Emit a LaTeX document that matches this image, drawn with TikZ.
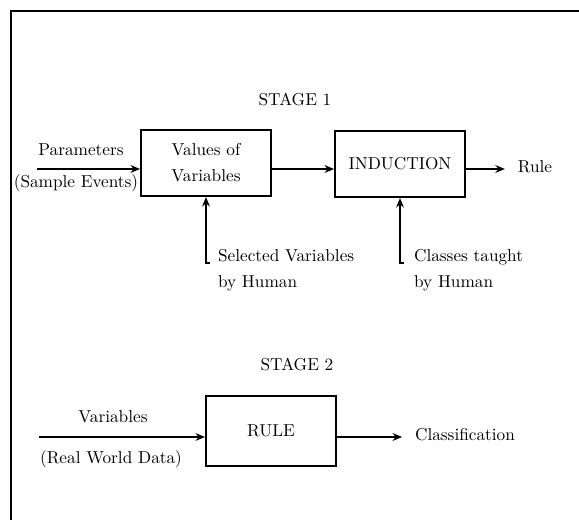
\documentclass[tikz,border=0pt]{standalone}
\usepackage{tikz}
\usetikzlibrary{shapes, arrows.meta, positioning}

\begin{document}
\begin{tikzpicture}
  [
    x=0.58pt, y=-0.58pt,
    Box/.style={rectangle, draw=black, line width=1pt, minimum width=75.5pt, minimum height=38.5pt},
    Txt/.style={align=left, inner sep=1pt},
    Flow/.style={-{Stealth[length=5.5pt, width=4.5pt]}, line width=1pt}
  ]
  \useasboundingbox (0,0) rectangle (579,520);
  % Frame
  \draw[line width=1pt] (579,11) -- (11,11) -- (11,520);
  % Nodes (stage 1)
  \node (stage1) at (295,100) {STAGE 1};
  \node[Box, align=center] (vals) at (206,163) {Values of\\[3pt] Variables};
  \node[Box] (induct) at (400,164) {INDUCTION};
  \node (params) at (81,150) {Parameters};
  \node (sample) at (76,183) {(Sample Events)};
  \node (rulelbl) at (535,167) {Rule};
  \node[Txt, anchor=west] (selvar) at (216,270) {Selected Variables\\[3pt] by Human};
  \node[Txt, anchor=west] (classes) at (412,270) {Classes taught\\[3pt] by Human};
  \coordinate (pin) at (37,169);
  \coordinate (selfoot) at (210,263);
  \coordinate (clsfoot) at (404,263);
  % Nodes (stage 2)
  \node (stage2) at (297,365) {STAGE 2};
  \node[Box, minimum height=41pt] (rulebox) at (271,431) {RULE};
  \node (vars) at (113,417) {Variables};
  \node (realdata) at (111,459) {(Real World Data)};
  \node (classif) at (465,435) {Classification};
  \coordinate (vin) at (39,437);
  % Lines
  \path [Flow, draw] (pin) -- (pin -| vals.west);
  \path [Flow, draw] (pin -| vals.east) -- (pin -| induct.west);
  \path [Flow, draw, shorten >=4pt] (pin -| induct.east) -- (pin -| rulelbl.west);
  \path [Flow, draw] (selfoot) -| (vals.south);
  \path [Flow, draw] (clsfoot) -| (induct.south);
  \path [Flow, draw] (vin) -- (vin -| rulebox.west);
  \path [Flow, draw, shorten >=4pt] (vin -| rulebox.east) -- (vin -| classif.west);
\end{tikzpicture}
\end{document}
